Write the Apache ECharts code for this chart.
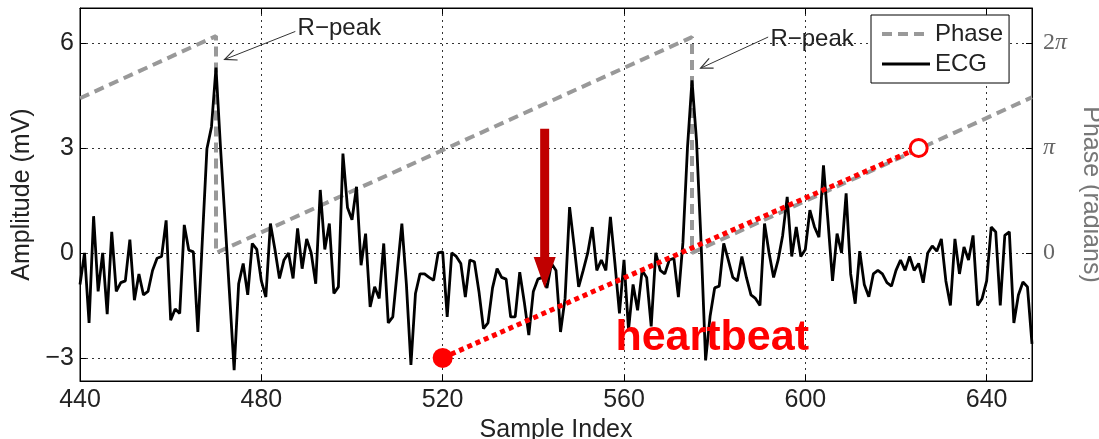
<!DOCTYPE html>
<html>
<head>
<meta charset="utf-8">
<script src="https://cdn.jsdelivr.net/npm/echarts@6/dist/echarts.min.js"></script>
<style>
  html, body { margin: 0; padding: 0; background: #fff; }
  #main { width: 1099px; height: 439px; }
</style>
</head>
<body>
<div id="main"></div>
<script>
// ECG samples, one per index starting at 440
var startIndex = 440;
var ecg = [
  -0.9, 0.0, -2.0, 1.05, -1.1, 0.0, -1.75, 0.6, -1.1, -0.85,
  -0.8, 0.38, -1.35, -0.6, -1.2, -1.1, -0.5, -0.15, -0.1, 0.93,
  -1.92, -1.6, -1.73, 0.8, 0.08, 0.03, -2.26, 0.4, 2.98, 3.6,
  5.3, 3.0, 0.9, -1.2, -3.35, -0.88, -0.3, -1.2, 0.27, 0.1,
  -0.8, -1.26, 0.84, 0.1, -0.73, -0.2, 0.0, -0.73, 0.7, -0.45,
  0.4, 0.0, -0.88, 1.8, 0.1, 0.84, -1.16, -0.97, 2.84, 1.3,
  0.95, 1.89, -0.35, 0.55, -1.54, -0.97, -1.3, 0.27, -2.0, -1.83,
  -0.5, 0.84, -0.9, -3.2, -1.16, -0.6, -0.6, -0.7, -0.78, 0.0,
  0.03, -1.83, 0.0, -0.1, -0.3, -1.26, -0.2, -0.25, -1.1, -2.16,
  -2.0, -1.0, -0.45, -0.7, -0.75, -1.83, -1.83, -0.55, -1.4, -2.35,
  -1.1, -0.75, -0.7, -1.0, -0.3, -0.5, -2.26, -1.3, 1.31, 0.2,
  -0.97, -0.5, 0.0, 0.74, -0.5, -0.2, -0.5, 1.03, -0.3, -1.73,
  -0.2, -2.2, -0.9, -1.64, -0.5, -0.7, -2.1, 0.0, -0.5, -0.6,
  -0.2, -0.15, -1.26, 0.3, 3.0, 4.93, 3.2, 0.3, -3.07, -1.8,
  -1.0, -0.95, 0.27, -0.2, -0.7, -0.8, -0.1, -0.7, -1.2, -1.3,
  -1.5, 0.84, 0.0, -0.7, -0.2, 0.5, 1.6, -0.1, 0.74, -0.1,
  0.1, 1.22, 0.75, 0.45, 2.5, 0.9, -0.8, 0.55, 0.0, 1.7,
  -0.6, -1.45, 0.05, -0.9, -1.25, -0.6, -0.5, -0.6, -0.85, -0.95,
  -0.5, -0.2, -0.5, -0.1, -0.5, -0.3, -0.85, 0.0, 0.2, 0.05,
  0.4, -0.8, -1.5, 0.4, -0.6, 0.17, -0.2, 0.5, -1.5, -1.3,
  -0.8, 0.74, 0.6, -1.5, 0.5, 0.6, -2.0, -1.2, -0.83, -0.97,
  -2.6
];

// phase sawtooth (radians), wraps at each R-peak
var phaseX = [440, 470, 470, 575, 575, 650];
var phaseY = [4.63, 6.49, 0, 6.46, 0, 4.66];

// red "heartbeat" line
var heartbeatX = [520, 625];
var heartbeatY = [-3, 3];

// axes
var ampMin = -3.66, ampMax = 7;
var ampTicks = [-3, 0, 3, 6];
var phaseTicks = [0, Math.PI, 2 * Math.PI];
var phaseTickLabels = ['0', '{i|π}', '2{i|π}'];

// annotations (data coords)
var rpeakLabel = [[488, 6.42], [592.3, 6.11]];
var rpeakFrom = [[487.5, 6.33], [591.8, 6.17]];
var rpeakTip = [[471.9, 5.53], [576.9, 5.28]];
var arrowX = 542.5, arrowTop = 3.55, arrowTip = -1.0;
var heartbeatLabel = [558.1, -2.44];

var font = '"Liberation Sans", Arial, sans-serif';
var chart = echarts.init(document.getElementById('main'));

var ecgData = ecg.map(function (v, i) { return [startIndex + i, v]; });
var phaseData = phaseX.map(function (x, i) { return [x, phaseY[i]]; });

var gridLine = { show: true, lineStyle: { color: '#333', width: 1, type: [2, 4] } };

var option = {
  animation: false,
  grid: {
    left: 80, right: 67, top: 8, bottom: 58,
    show: true, borderColor: '#000', borderWidth: 1,
    outerBoundsMode: 'none'
  },
  legend: {
    data: [
      { name: 'Phase', lineStyle: { width: 4, type: [10, 6], color: '#999' } },
      { name: 'ECG', lineStyle: { width: 3, color: '#000' } }
    ],
    orient: 'vertical',
    left: 871, top: 15,
    backgroundColor: '#fff',
    borderColor: '#000', borderWidth: 1, borderRadius: 0,
    padding: [7, 6, 7, 9],
    itemWidth: 48, itemHeight: 14, itemGap: 6,
    itemStyle: { color: 'rgba(0,0,0,0)', borderColor: 'rgba(0,0,0,0)', borderWidth: 0 },
    textStyle: { fontFamily: font, fontSize: 24, color: '#222' }
  },
  xAxis: [{
    type: 'value', min: 440, max: 650, interval: 40, position: 'bottom',
    axisLine: { onZero: false, lineStyle: { color: '#000', width: 1 } },
    axisTick: { inside: true, length: 6, lineStyle: { color: '#000' } },
    axisLabel: { showMaxLabel: false, fontFamily: font, fontSize: 25, color: '#222', margin: 7 },
    splitLine: gridLine,
    name: 'Sample Index', nameLocation: 'middle', nameGap: 34,
    nameTextStyle: { fontFamily: font, fontSize: 25, color: '#222' }
  }, {
    type: 'value', min: 440, max: 650, interval: 40, position: 'top',
    axisLine: { onZero: false, lineStyle: { color: '#000', width: 1 } },
    axisTick: { inside: true, length: 6, lineStyle: { color: '#000' } },
    axisLabel: { show: false },
    splitLine: { show: false }
  }],
  yAxis: [{
    type: 'value', min: ampMin, max: ampMax, position: 'left',
    axisLine: { show: true, onZero: false, lineStyle: { color: '#000', width: 1 } },
    axisTick: { show: true, inside: true, length: 6, customValues: ampTicks, lineStyle: { color: '#000' } },
    axisLabel: {
      customValues: ampTicks, fontFamily: font, fontSize: 25, color: '#222', margin: 6,
      formatter: function (v) { return v < 0 ? '\u2212' + (-v) : String(v); }
    },
    splitLine: gridLine,
    name: 'Amplitude (mV)', nameLocation: 'middle', nameGap: 30,
    nameTextStyle: { fontFamily: font, fontSize: 25, color: '#222' }
  }, {
    type: 'value', min: ampMin * Math.PI / 3, max: ampMax * Math.PI / 3, position: 'right',
    axisLine: { show: true, onZero: false, lineStyle: { color: '#000', width: 1 } },
    axisTick: { show: true, inside: true, length: 6, customValues: phaseTicks, lineStyle: { color: '#000' } },
    axisLabel: {
      customValues: phaseTicks, fontFamily: '"Liberation Serif", serif', fontSize: 24, color: '#666', margin: 11,
      formatter: function (v) {
        for (var i = 0; i < phaseTicks.length; i++) {
          if (Math.abs(phaseTicks[i] - v) < 1e-6) return phaseTickLabels[i];
        }
        return '';
      },
      rich: { i: { fontFamily: '"Liberation Serif", serif', fontStyle: 'italic', fontSize: 24, color: '#666' } }
    },
    splitLine: { show: false },
    name: 'Phase (radians)', nameLocation: 'middle', nameGap: 44, nameRotate: -90,
    nameTextStyle: { fontFamily: font, fontSize: 25, color: '#777' }
  }],
  series: [{
    name: 'Phase', type: 'line', yAxisIndex: 1, data: phaseData,
    symbol: 'none', z: 2,
    lineStyle: { color: '#999', width: 4, type: [10, 6] },
    itemStyle: { color: '#999' }
  }, {
    name: 'ECG', type: 'line', data: ecgData,
    symbol: 'none', z: 3,
    lineStyle: { color: '#000', width: 2.8 },
    itemStyle: { color: '#000' }
  }, {
    name: 'heartbeat', type: 'line', z: 5,
    data: [
      { value: [heartbeatX[0], heartbeatY[0]], symbol: 'circle', symbolSize: 20,
        itemStyle: { color: '#ff0000' } },
      { value: [heartbeatX[1], heartbeatY[1]], symbol: 'circle', symbolSize: 17,
        itemStyle: { color: '#fff', borderColor: '#ff0000', borderWidth: 3 } }
    ],
    lineStyle: { color: '#ff0000', width: 5, type: [5, 4] }
  }]
};

chart.setOption(option);

// annotations
function px(p) { return chart.convertToPixel({ xAxisIndex: 0, yAxisIndex: 0 }, p); }
var elements = [];

rpeakLabel.forEach(function (lp, k) {
  var p = px(lp), a = px(rpeakFrom[k]), b = px(rpeakTip[k]);
  elements.push({
    type: 'text', x: p[0], y: p[1], z: 10,
    style: { text: 'R\u2212peak', font: '24px ' + font, fill: '#222', verticalAlign: 'middle' }
  });
  var ang = Math.atan2(a[1] - b[1], a[0] - b[0]);
  var L = 13, w = 0.42;
  elements.push({
    type: 'polyline', z: 10,
    shape: { points: [a, b] },
    style: { stroke: '#333', lineWidth: 1, fill: null }
  });
  elements.push({
    type: 'polyline', z: 10,
    shape: { points: [
      [b[0] + L * Math.cos(ang + w), b[1] + L * Math.sin(ang + w)],
      b,
      [b[0] + L * Math.cos(ang - w), b[1] + L * Math.sin(ang - w)]
    ] },
    style: { stroke: '#333', lineWidth: 1.2, fill: null }
  });
});

var at = px([arrowX, arrowTop]), ab = px([arrowX, arrowTip]);
var headLen = 31, headW = 11;
elements.push({
  type: 'rect', z: 10,
  shape: { x: at[0] - 4.5, y: at[1], width: 9, height: ab[1] - headLen - at[1] + 1 },
  style: { fill: '#c00000' }
});
elements.push({
  type: 'polygon', z: 10,
  shape: { points: [[ab[0] - headW, ab[1] - headLen], [ab[0] + headW, ab[1] - headLen], [ab[0], ab[1]]] },
  style: { fill: '#c00000' }
});

var hp = px(heartbeatLabel);
elements.push({
  type: 'text', x: hp[0], y: hp[1], z: 10,
  style: { text: 'heartbeat', font: 'bold 43px ' + font, fill: '#ff0000', verticalAlign: 'middle' }
});

chart.setOption({ graphic: elements });
</script>
</body>
</html>
